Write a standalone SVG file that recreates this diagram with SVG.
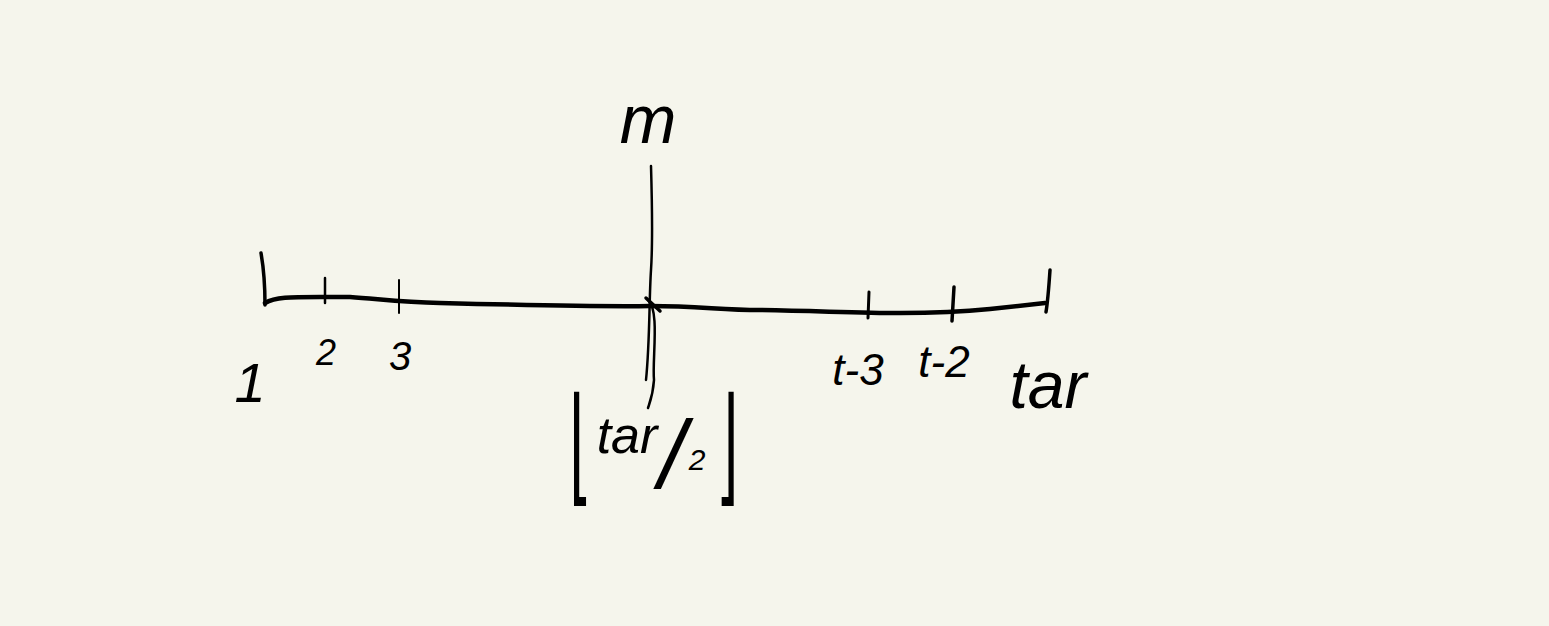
<svg xmlns="http://www.w3.org/2000/svg" width="1549" height="626" viewBox="0 0 1549 626">
<style>
.s{fill:none;stroke:#000;stroke-linecap:round;stroke-linejoin:round}
.t{font-family:"Liberation Sans","DejaVu Sans",sans-serif;font-style:italic;fill:#000;text-anchor:middle}
.b{font-family:"DejaVu Sans",sans-serif;font-style:normal;font-weight:200;fill:#000;text-anchor:middle}
</style>
<rect width="1549" height="626" fill="#f5f5ec"/>
<g id="connectors">
<path class="s" stroke-width="4.5" d="M265,303 C275,297 290,297 320,297 L350,297 C380,299 400,302 440,303 C520,305 600,307 650,306 C700,306 720,310 760,310 C820,311 860,313 900,313 C940,313 970,311 990,309 L1045,303"/>
<path class="s" stroke-width="3.5" d="M261,253 C264,270 265,290 265,305"/>
<path class="s" stroke-width="3.5" d="M1050,270 C1049,285 1048,300 1046,312"/>
<path class="s" stroke-width="2.5" d="M325,278 L325,303"/>
<path class="s" stroke-width="2" d="M399,280 L399,313"/>
<path class="s" stroke-width="3" d="M869,292 L868,318"/>
<path class="s" stroke-width="3.5" d="M954,287 L952,321"/>
<path class="s" stroke-width="2.5" d="M651,166 C652,200 653,240 651,270 C649,300 650,340 646,380"/>
<path class="s" stroke-width="2.5" d="M648,300 C660,310 652,360 654,380 C653,395 650,402 648,408"/>
<path class="s" stroke-width="3.5" d="M646,298 L660,311"/>
</g>
<g id="label-m"><text class="t" x="648" y="143" font-size="68">m</text></g>
<g id="label-1"><text class="t" x="250" y="402" font-size="56">1</text></g>
<g id="label-2"><text class="t" x="326" y="365" font-size="36">2</text></g>
<g id="label-3"><text class="t" x="400" y="370" font-size="40">3</text></g>
<g id="label-t-3"><text class="t" x="858" y="385" font-size="44">t-3</text></g>
<g id="label-t-2"><text class="t" x="944" y="377" font-size="44">t-2</text></g>
<g id="label-tar"><text class="t" x="1048" y="408" font-size="66">tar</text></g>
<g id="label-half">
<text class="b" transform="translate(580,489) scale(1,2.2)" font-size="58">⌊</text>
<text class="t" x="627" y="453" font-size="52">tar</text>
<text class="t" x="672" y="488" font-size="96" font-style="normal" font-weight="normal">/</text>
<text class="t" x="697" y="470" font-size="30">2</text>
<text class="b" transform="translate(727,489) scale(1,2.2)" font-size="58">⌋</text>
</g>
</svg>
